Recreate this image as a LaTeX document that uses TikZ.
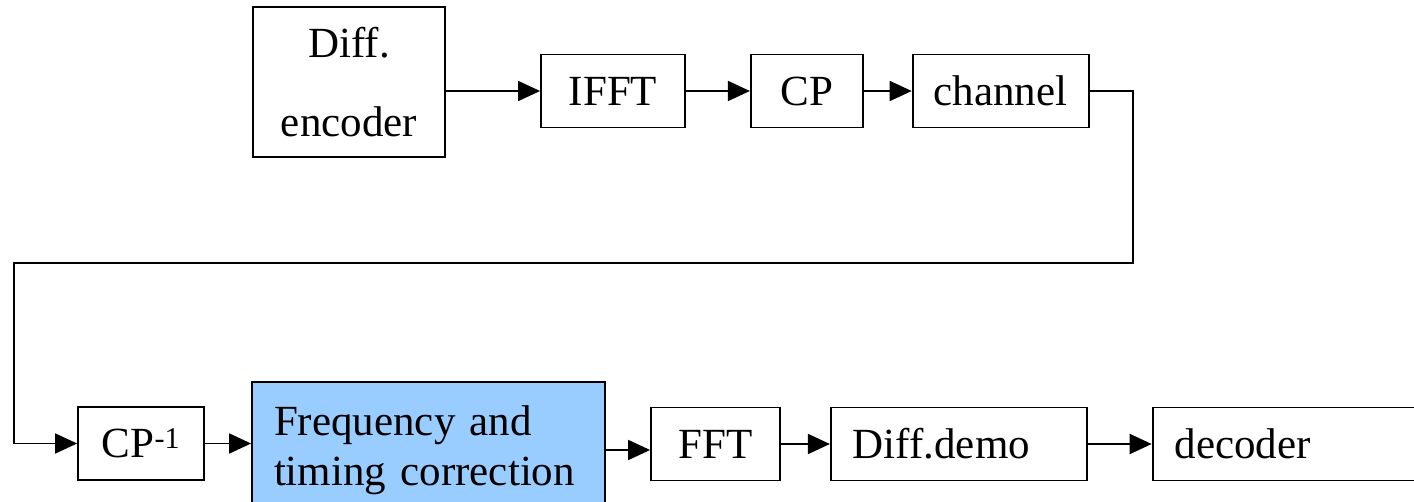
\documentclass[tikz,border=0pt]{standalone}
\usepackage{fontspec}
\setmainfont{Liberation Serif}
\usepackage{tikz}
\usetikzlibrary{arrows.meta,positioning}

\definecolor{corrblue}{RGB}{153,204,255}

\begin{document}
\begin{tikzpicture}[
    x=1pt, y=-1pt,
    blk/.style={rectangle, draw, line width=1.8pt, minimum height=73pt, inner sep=0pt, font=\fontsize{43}{50}\selectfont},
    lblk/.style={blk, align=left, inner xsep=22pt},
    arr/.style={-{Triangle[length=22pt,width=20pt]}, line width=1.8pt}
]
\useasboundingbox (0,0) rectangle (1414,502);
\clip (0,0) rectangle (1414,502);

% transmitter chain
\node[blk, minimum width=192pt, minimum height=150pt, align=center, font=\fontsize{43}{79}\selectfont] (enc) at (349,82) {Diff.\\encoder};
\node[blk, minimum width=144pt] (ifft) at (613,91) {IFFT};
\node[blk, minimum width=112pt, right=64pt of ifft] (cp) {CP};
\node[blk, minimum width=176pt, right=48pt of cp] (chan) {channel};

% receiver chain
\node[blk, minimum width=126pt] (cpinv) at (141,443.5) {CP\textsuperscript{-1}};
\node[lblk, fill=corrblue, minimum width=353pt, minimum height=136pt, text width=309pt,
      font=\fontsize{43}{50}\selectfont] (freq) at (428.5,450) {Frequency and\\timing correction};
\node[blk, minimum width=129pt] (fft) at (715.5,444) {FFT};
\node[lblk, minimum width=256pt, text width=212pt, right=49pt of fft] (demo) {Diff.demo};
\node[lblk, minimum width=300pt, text width=256pt, right=64pt of demo] (dec) {decoder};

% channel output wraps around to the receiver
\coordinate (turnR) at (1133,263);
\coordinate (turnL) at (14,263);

\draw[arr] (enc.east |- ifft.west) -- (ifft.west);
\draw[arr] (ifft) -- (cp);
\draw[arr] (cp) -- (chan);
\draw[arr] (chan.east) -| (turnR) -- (turnL) |- (cpinv.west);
\draw[arr] (cpinv.east) -- (cpinv.east -| freq.west);
\draw[arr] (freq.east) -- (freq.east -| fft.west);
\draw[arr] (fft) -- (demo);
\draw[arr] (demo) -- (dec);

\end{tikzpicture}
\end{document}
